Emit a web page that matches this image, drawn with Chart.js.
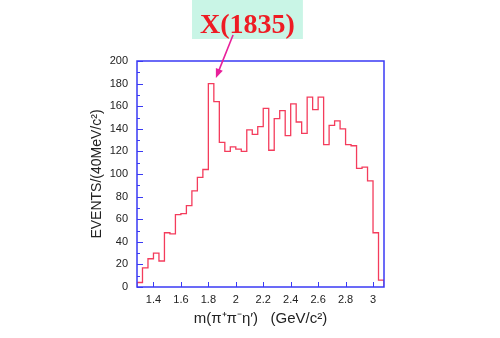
<!DOCTYPE html>
<html>
<head>
<meta charset="utf-8">
<script src="https://cdn.jsdelivr.net/npm/chart.js@4.4.1/dist/chart.umd.min.js"></script>
<style>
  html, body { margin: 0; padding: 0; background: #fff; }
</style>
</head>
<body>
<canvas id="canvas" width="500" height="338"></canvas>
<script>
// 40 MeV bins of m(pi+ pi- eta')
const binStart = 1.28;
const binWidth = 0.04;
const counts = [
  4, 17, 25, 30, 23, 48, 47, 64, 65, 72,
  85, 97, 104, 180, 164, 128, 120, 124, 122, 120,
  139, 135, 142, 158, 121, 149, 156, 134, 162, 146,
  136, 168, 157, 168, 126, 143, 147, 140, 126, 125,
  105, 106, 94, 48, 6
];
const xTicks = [1.4, 1.6, 1.8, 2.0, 2.2, 2.4, 2.6, 2.8, 3.0];
const yMax = 200;
const peakName = "X(1835)";

const frameBlue = "#3a3af5";
const histRed = "#f43c5c";

// histogram outline: start and end on the baseline
const binEdge = (i) => +(binStart + i * binWidth).toFixed(2);
const points = [{ x: binEdge(0), y: 0 }];
counts.forEach((c, i) => points.push({ x: binEdge(i), y: c }));
points.push({ x: binEdge(counts.length), y: counts[counts.length - 1] });
points.push({ x: binEdge(counts.length), y: 0 });

// frame, inward ticks, peak tag with arrow
const decorations = {
  id: "decorations",
  afterDatasetsDraw(chart) {
    const { ctx, chartArea: a, scales: { x, y } } = chart;
    ctx.save();
    ctx.strokeStyle = frameBlue;
    ctx.lineWidth = 1.5;
    ctx.strokeRect(a.left, a.top, a.right - a.left, a.bottom - a.top);

    ctx.lineWidth = 1;
    ctx.beginPath();
    for (let v = 0; v <= yMax; v += 10) {
      const py = Math.round(y.getPixelForValue(v)) + 0.5;
      const len = v % 20 === 0 ? 6 : 3;
      ctx.moveTo(a.left, py);
      ctx.lineTo(a.left + len, py);
    }
    xTicks.forEach((t) => {
      const px = Math.round(x.getPixelForValue(t)) + 0.5;
      ctx.moveTo(px, a.bottom);
      ctx.lineTo(px, a.bottom - 5);
    });
    ctx.stroke();

    // tag above the plot
    const cx = x.getPixelForValue(2.085);
    ctx.font = "bold 28px 'Liberation Serif'";
    const tw = ctx.measureText(peakName).width;
    ctx.fillStyle = "#c9f5e6";
    ctx.fillRect(cx - tw / 2 - 8, 0, tw + 16, 39);
    ctx.fillStyle = "#ee1c24";
    ctx.textAlign = "center";
    ctx.textBaseline = "alphabetic";
    ctx.fillText(peakName, cx, 33);

    // arrow down to the peak
    const x0 = x.getPixelForValue(1.98), y0 = y.getPixelForValue(223);
    const x1 = x.getPixelForValue(1.855), y1 = y.getPixelForValue(185);
    const ang = Math.atan2(y1 - y0, x1 - x0);
    ctx.strokeStyle = "#e8209a";
    ctx.fillStyle = "#e8209a";
    ctx.lineWidth = 1.6;
    ctx.beginPath();
    ctx.moveTo(x0, y0);
    ctx.lineTo(x1 - 6 * Math.cos(ang), y1 - 6 * Math.sin(ang));
    ctx.stroke();
    ctx.beginPath();
    ctx.moveTo(x1, y1);
    ctx.lineTo(x1 - 10 * Math.cos(ang - 0.38), y1 - 10 * Math.sin(ang - 0.38));
    ctx.lineTo(x1 - 10 * Math.cos(ang + 0.38), y1 - 10 * Math.sin(ang + 0.38));
    ctx.closePath();
    ctx.fill();
    ctx.restore();
  }
};

const ctx = document.getElementById("canvas").getContext("2d");
new Chart(ctx, {
  type: "line",
  data: {
    datasets: [{
      data: points,
      stepped: true,
      borderColor: histRed,
      borderWidth: 1.3,
      pointRadius: 0,
      fill: false
    }]
  },
  options: {
    responsive: false,
    animation: false,
    events: [],
    layout: { padding: { left: 0, right: 116, top: 61, bottom: 0 } },
    plugins: { legend: { display: false }, tooltip: { enabled: false } },
    scales: {
      x: {
        type: "linear",
        min: binStart,
        max: binEdge(counts.length),
        afterBuildTicks: (s) => { s.ticks = xTicks.map((v) => ({ value: v })); },
        afterFit: (s) => { s.height = 51; },
        grid: { display: false, drawTicks: false },
        border: { display: false },
        ticks: {
          padding: 6,
          color: "#222",
          font: { family: "'Liberation Sans'", size: 11 },
          callback: (v) => String(+(+v).toFixed(1))
        },
        title: {
          display: true,
          text: "m(π⁺π⁻η′)   (GeV/c²)",
          color: "#222",
          font: { family: "'Liberation Sans'", size: 15 },
          padding: { top: 0, bottom: 10 }
        }
      },
      y: {
        min: 0,
        max: yMax,
        afterFit: (s) => { s.width = 137; },
        grid: { display: false, drawTicks: false },
        border: { display: false },
        ticks: {
          stepSize: 20,
          padding: 9,
          color: "#222",
          font: { family: "'Liberation Sans'", size: 11 }
        },
        title: {
          display: true,
          text: "EVENTS/(40MeV/c²)",
          color: "#222",
          font: { family: "'Liberation Sans'", size: 14 },
          padding: { top: 89, bottom: 0 }
        }
      }
    }
  },
  plugins: [decorations]
});
</script>
</body>
</html>
